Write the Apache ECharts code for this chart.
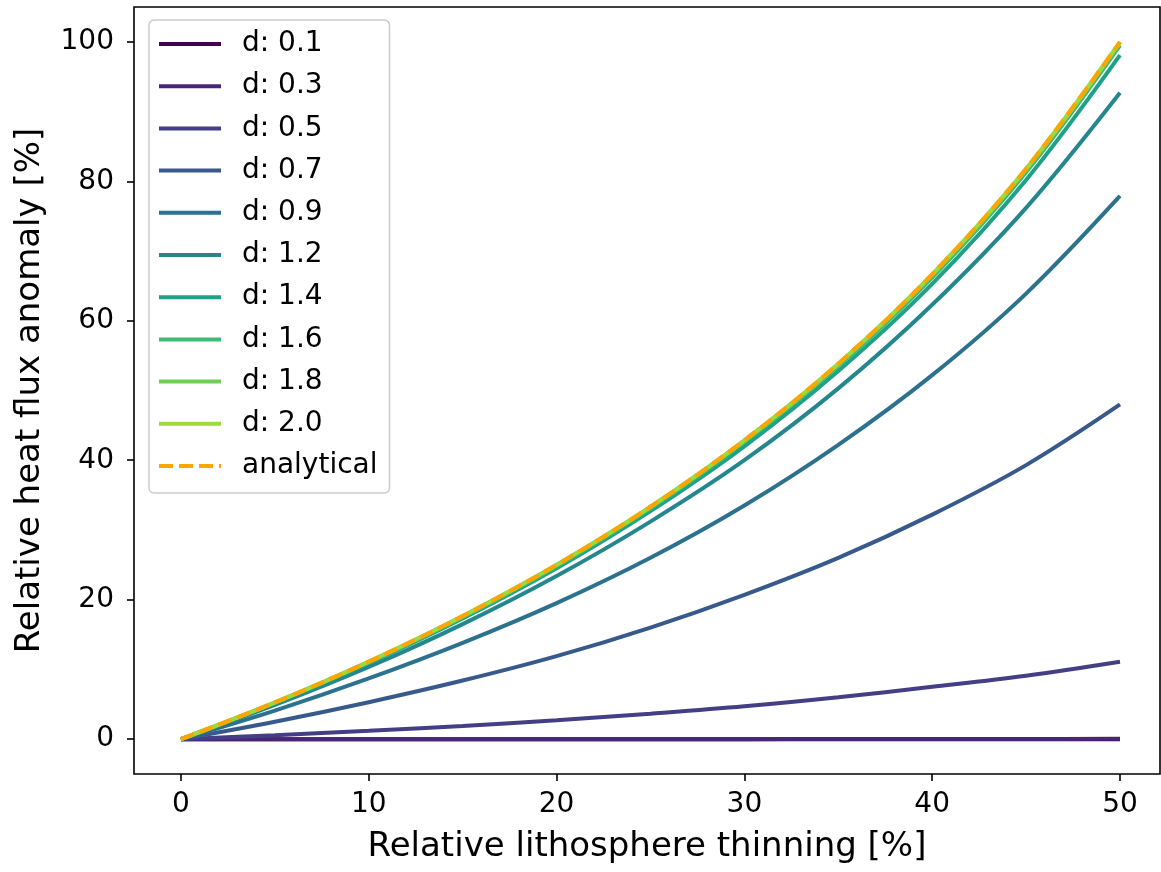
<!DOCTYPE html>
<html>
<head>
<meta charset="utf-8">
<script src="https://cdn.jsdelivr.net/npm/echarts@6/dist/echarts.min.js"></script>
<style>
html,body{margin:0;padding:0;background:#fff;}
#chart{width:1161px;height:872px;}
</style>
</head>
<body>
<div id="chart"></div>
<script>
// Relative lithosphere thinning [%]
const thinning = [0, 5, 10, 15, 20, 25, 30, 35, 40, 45, 50];
const tickX = [0, 10, 20, 30, 40, 50];
const tickY = [0, 20, 40, 60, 80, 100];
const seriesNames = ['d: 0.1','d: 0.3','d: 0.5','d: 0.7','d: 0.9','d: 1.2','d: 1.4','d: 1.6','d: 1.8','d: 2.0'];
const d01 = [0, 0, 0, 0, 0, 0, 0, 0, 0, 0, 0];
const d03 = [0, 0, 0, 0, 0, 0, 0, 0.01, 0.02, 0.03, 0.05];
const d05 = [0, 0.57, 1.2, 1.9, 2.7, 3.65, 4.7, 6.0, 7.5, 9.1, 11.1];
const d07 = [0, 2.5, 5.3, 8.4, 11.9, 16.0, 20.7, 26.0, 32.2, 39.3, 48.0];
const d09 = [0, 4.1, 8.7, 13.8, 19.5, 26.0, 33.5, 42.2, 52.2, 63.9, 77.9];
const d12 = [0, 4.9, 10.35, 16.5, 23.4, 31.2, 40.0, 50.3, 62.3, 76.2, 92.7];
const d14 = [0, 5.15, 10.9, 17.3, 24.5, 32.7, 42.0, 52.8, 65.3, 80.2, 98.1];
const d16 = [0, 5.22, 11.03, 17.5, 24.8, 33.1, 42.6, 53.5, 66.2, 81.3, 99.5];
const d18 = [0, 5.25, 11.1, 17.62, 24.97, 33.3, 42.8, 53.78, 66.58, 81.7, 99.9];
const d20 = [0, 5.26, 11.11, 17.65, 25.0, 33.33, 42.86, 53.84, 66.66, 81.8, 99.98];
const analytical = [0, 5.26, 11.11, 17.65, 25.0, 33.33, 42.86, 53.85, 66.67, 81.82, 100];
const colors = ['#440154','#482677','#433e85','#38598c','#2c728e','#24878e','#1fa188','#3bbb75','#6ece58','#a0da39'];
const analyticalColor = '#ffa500';

const allD = [d01, d03, d05, d07, d09, d12, d14, d16, d18, d20];
const FONT = 'DejaVu Sans';
const LW = 4;
const solidIcon = 'path://M0,0h62v4h-62z';
const dashIcon = 'path://M0,0h14v4h-14z M20,0h14v4h-14z M40,0h14v4h-14z M60,0h2v4h-2z';

const series = allD.map((arr, i) => ({
  name: seriesNames[i],
  type: 'line',
  data: thinning.map((x, j) => [x, arr[j]]),
  symbol: 'none',
  smooth: 0.35,
  lineStyle: { color: colors[i], width: LW },
  itemStyle: { color: colors[i] },
  z: 2 + i
}));
series.push({
  name: 'analytical',
  type: 'line',
  data: thinning.map((x, j) => [x, analytical[j]]),
  symbol: 'none',
  smooth: 0.35,
  lineStyle: { color: analyticalColor, width: LW, type: [14, 6] },
  itemStyle: { color: analyticalColor },
  z: 20
});

const legendData = seriesNames.map(n => ({ name: n, icon: solidIcon }));
legendData.push({ name: 'analytical', icon: dashIcon });

const chart = echarts.init(document.getElementById('chart'), null, { renderer: 'canvas' });
chart.setOption({
  animation: false,
  backgroundColor: '#fff',
  grid: {
    left: 134, right: 1, top: 7, bottom: 98,
    show: true, borderColor: '#000', borderWidth: 1.6, backgroundColor: 'transparent'
  },
  xAxis: {
    type: 'value', min: -2.5, max: 52.13,
    name: 'Relative lithosphere thinning [%]',
    nameLocation: 'middle', nameGap: 56,
    nameTextStyle: { fontFamily: FONT, fontSize: 34, color: '#000' },
    axisLine: { show: false, onZero: false },
    splitLine: { show: false },
    axisTick: { show: true, length: 7, inside: false, customValues: tickX, lineStyle: { color: '#000', width: 1.6 } },
    axisLabel: { customValues: tickX, fontFamily: FONT, fontSize: 28, color: '#000', margin: 17 }
  },
  yAxis: {
    type: 'value', min: -5, max: 105,
    name: 'Relative heat flux anomaly [%]',
    nameLocation: 'middle', nameGap: 87, nameRotate: 90,
    nameTextStyle: { fontFamily: FONT, fontSize: 34, color: '#000' },
    axisLine: { show: false, onZero: false },
    splitLine: { show: false },
    axisTick: { show: true, length: 7, inside: false, customValues: tickY, lineStyle: { color: '#000', width: 1.6 } },
    axisLabel: { customValues: tickY, fontFamily: FONT, fontSize: 28, color: '#000', margin: 20 }
  },
  legend: {
    orient: 'vertical',
    left: 149, top: 20,
    padding: [9, 12, 12, 10],
    itemWidth: 62, itemHeight: 4, itemGap: 12.2,
    backgroundColor: 'rgba(255,255,255,0.8)',
    borderColor: '#cccccc', borderWidth: 1.5, borderRadius: 5,
    data: legendData,
    textStyle: { fontFamily: FONT, fontSize: 28, color: '#000', lineHeight: 30, padding: [0, 0, 0, 16] }
  },
  series: series
});
</script>
</body>
</html>
